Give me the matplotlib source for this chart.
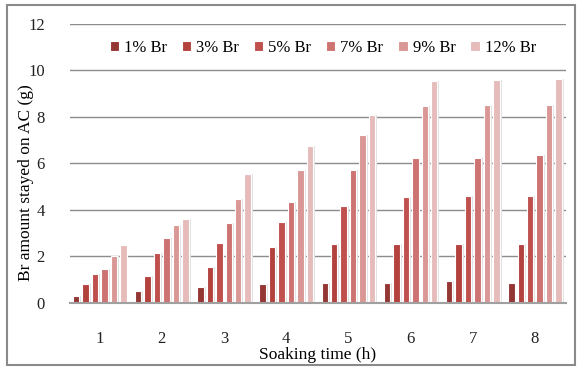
import matplotlib.pyplot as plt
import numpy as np
from matplotlib.patches import Rectangle

plt.rcParams['font.family'] = ['Liberation Serif', 'DejaVu Serif']

hours = [1, 2, 3, 4, 5, 6, 7, 8]
labels = ['1% Br', '3% Br', '5% Br', '7% Br', '9% Br', '12% Br']
br1 = [0.30, 0.53, 0.69, 0.80, 0.85, 0.85, 0.92, 0.85]
br3 = [0.80, 1.14, 1.53, 2.39, 2.52, 2.52, 2.52, 2.52]
br5 = [1.23, 2.13, 2.56, 3.50, 4.18, 4.57, 4.60, 4.60]
br7 = [1.46, 2.77, 3.45, 4.35, 5.72, 6.24, 6.24, 6.34]
br9 = [2.00, 3.34, 4.45, 5.72, 7.20, 8.46, 8.53, 8.53]
br12 = [2.50, 3.60, 5.55, 6.76, 8.08, 9.53, 9.60, 9.64]
series = [br1, br3, br5, br7, br9, br12]
colors = ['#943634', '#B3423F', '#C0504D', '#CD7371', '#D99795', '#E6BCBB']

fig = plt.figure(figsize=(5.77, 3.68), dpi=100)
ax = fig.add_axes([0.121, 0.177, 0.86, 0.758])

x = np.arange(len(hours)) + 1
slot = 0.152
for i, (vals, c, lab) in enumerate(zip(series, colors, labels)):
    pos = x + (i - 2.5) * slot
    # soft shadow
    ax.bar(pos + 0.03, vals, width=slot * 0.7, color='#e2e2e2', zorder=2)
    ax.bar(pos, vals, width=slot * 0.68, color=c, edgecolor='white',
           linewidth=0.8, label=lab, zorder=3)

ax.set_xlim(0.52, 8.5)
ax.set_ylim(0, 12)
ax.set_yticks(range(0, 13, 2))
ax.set_xticks(x)
ax.set_xticklabels([str(h) for h in hours])
ax.yaxis.grid(True, color='#8c8c8c', linewidth=1.0, zorder=0)
ax.set_axisbelow(True)
for s in ['top', 'right', 'left']:
    ax.spines[s].set_visible(False)
ax.spines['bottom'].set_color('#a0a0a0')
ax.spines['bottom'].set_linewidth(1.5)
ax.spines['bottom'].set_zorder(5)
ax.tick_params(axis='both', length=0, labelsize=12, colors='#222222')
ax.tick_params(axis='x', pad=20)
ax.tick_params(axis='y', pad=18)
ax.set_xlabel('Soaking time (h)', fontsize=12.5, labelpad=0)
ax.set_ylabel('Br amount stayed on AC (g)', fontsize=12.5)
ax.yaxis.set_label_coords(-0.072, 0.43)

ax.legend(loc='upper center', bbox_to_anchor=(0.51, 0.995), ncol=6, frameon=False,
          fontsize=12, handlelength=0.55, handleheight=0.55, handletextpad=0.3,
          columnspacing=0.9)

fig.patches.append(Rectangle((0.012, 0.008), 0.984, 0.978, transform=fig.transFigure,
                             fill=False, edgecolor='#8a8a8a', linewidth=1.5))

fig.savefig('out.png', dpi=100)
